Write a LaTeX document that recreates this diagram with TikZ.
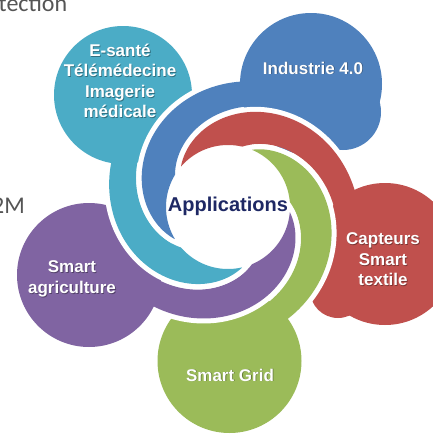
\documentclass[tikz,border=0pt]{standalone}
\usepackage{fontspec}
\setmainfont{Liberation Sans}
\newfontfamily\slidefont{Carlito}
\definecolor{pcyan}{RGB}{75,172,198}
\definecolor{pblue}{RGB}{79,129,189}
\definecolor{pred}{RGB}{192,80,77}
\definecolor{pgreen}{RGB}{155,187,89}
\definecolor{ppurple}{RGB}{128,100,162}
\definecolor{navy}{RGB}{30,40,100}
\definecolor{slidegray}{RGB}{85,85,85}
\pgfmathdeclarefunction{rout}{1}{\pgfmathparse{99-0.5*(#1-90)-0.001*(#1-90)*(#1-90)}}
\pgfmathdeclarefunction{rin}{1}{\pgfmathparse{max(62,rout(#1+72)+6)}}
\newcommand\petalband[3]{%
  \draw[white, line width=10pt] plot[domain=36:155, samples=90]
    ({228+rout(\x)*cos(#2+\x)}, {207-rout(\x)*sin(#2+\x)});
  \fill[#1] plot[domain=#3:155, samples=140]
    ({228+rout(\x)*cos(#2+\x)}, {207-rout(\x)*sin(#2+\x)})
    -- plot[domain=155:#3, samples=140]
    ({228+rin(\x)*cos(#2+\x)}, {207-rin(\x)*sin(#2+\x)}) -- cycle;
}
\tikzset{
  lab/.style={font=\fontsize{17}{20.5}\selectfont\bfseries, text=white, align=center, inner sep=0pt},
  labshadow/.style={lab, text=black, text opacity=0.35},
  slidetext/.style={font=\slidefont\fontsize{24}{28}\selectfont, text=slidegray, inner sep=0pt}
}
\begin{document}
\begin{tikzpicture}[x=1pt,y=-1pt]
\fill[white] (0,0) rectangle (432,434);
\useasboundingbox (0,0) rectangle (432,434);
% blobs
\fill[pcyan] (123,95) circle[radius=69];
\fill[pblue] (311,84) circle[radius=71];
\fill[pblue] (343,112) circle[radius=38];
\fill[pred] (385,254) circle[radius=71];
\fill[pred] (338,290) circle[radius=28];
\fill[pgreen] (229.5,361) circle[radius=72];
\fill[ppurple] (89,275) circle[radius=72];
% spiral bands
\petalband{pred}{344}{0}
\petalband{pgreen}{272}{0}
\petalband{ppurple}{200}{0}
\petalband{pcyan}{128}{0}
\petalband{pblue}{56}{0}
% labels
\node[labshadow] (cyanS) at (120.8,81.8) {E-santé\\Télémédecine\\Imagerie\\médicale};
\node[lab] (cyanT) at (120,81) {E-santé\\Télémédecine\\Imagerie\\médicale};
\node[labshadow] (blueS) at (313.8,68.8) {Industrie 4.0};
\node[lab] (blueT) at (313,68) {Industrie 4.0};
\node[labshadow] (redS) at (383.8,260.3) {Capteurs\\Smart\\textile};
\node[lab] (redT) at (383,259.5) {Capteurs\\Smart\\textile};
\node[labshadow] (greenS) at (230.8,375.8) {Smart Grid};
\node[lab] (greenT) at (230,375) {Smart Grid};
\node[labshadow] (purpleS) at (72.8,279.8) {Smart\\agriculture};
\node[lab] (purpleT) at (72,279) {Smart\\agriculture};
\node[font=\fontsize{20}{24}\selectfont\bfseries, text=navy, inner sep=0pt] (center) at (228,206) {Applications};
% cropped slide text
\node[slidetext, anchor=base west] (tect) at (-1.5,11.5) {tection};
\node[slidetext, anchor=base east] (twoM) at (25,213) {2M};
\end{tikzpicture}
\end{document}
